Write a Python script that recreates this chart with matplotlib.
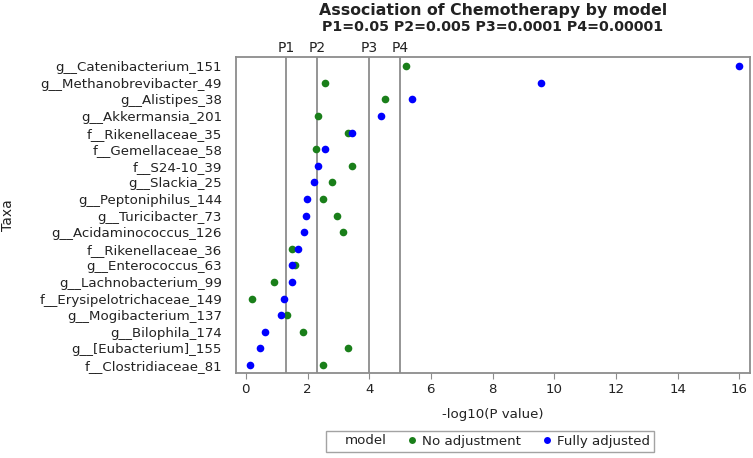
import numpy as np
import matplotlib.pyplot as plt
from matplotlib.lines import Line2D

taxa = ['g__Catenibacterium_151', 'g__Methanobrevibacter_49', 'g__Alistipes_38',
        'g__Akkermansia_201', 'f__Rikenellaceae_35', 'f__Gemellaceae_58',
        'f__S24-10_39', 'g__Slackia_25', 'g__Peptoniphilus_144', 'g__Turicibacter_73',
        'g__Acidaminococcus_126', 'f__Rikenellaceae_36', 'g__Enterococcus_63',
        'g__Lachnobacterium_99', 'f__Erysipelotrichaceae_149', 'g__Mogibacterium_137',
        'g__Bilophila_174', 'g__[Eubacterium]_155', 'f__Clostridiaceae_81']
no_adj = [5.19, 2.56, 4.51, 2.33, 3.31, 2.27, 3.43, 2.80, 2.51, 2.96,
          3.16, 1.48, 1.59, 0.91, 0.20, 1.34, 1.84, 3.32, 2.49]
fully_adj = [16.0, 9.58, 5.39, 4.38, 3.44, 2.56, 2.35, 2.22, 1.99, 1.95,
             1.88, 1.68, 1.50, 1.49, 1.23, 1.13, 0.62, 0.45, 0.13]
p_names = ['P1', 'P2', 'P3', 'P4']
p_cuts = [0.05, 0.005, 0.0001, 0.00001]

green = '#1a7f1a'
blue = '#0000ff'
grey = '#8c8c8c'
txt = '#222222'

fig = plt.figure(figsize=(7.53, 4.58), dpi=100)
ax = fig.add_axes([236 / 753, 1 - 373 / 458, (750 - 236) / 753, (373 - 57) / 458])

y = np.arange(len(taxa))
ax.plot(no_adj, y, 'o', color=green, ms=5.5, mew=0, zorder=3)
ax.plot(fully_adj, y, 'o', color=blue, ms=5.5, mew=0, zorder=3)

for name, p in zip(p_names, p_cuts):
    xv = -np.log10(p)
    ax.axvline(xv, color=grey, lw=1.3, zorder=1)
    ax.text(xv, -0.7, name, ha='center', va='bottom', fontsize=10, color=txt)

ax.set_xlim(-0.32, 16.35)
ax.set_ylim(18.48, -0.55)
ax.set_yticks(y)
ax.set_yticklabels(taxa, fontsize=9.6, color=txt)
ax.set_xticks(np.arange(0, 17, 2))
ax.tick_params(axis='x', labelsize=9.6, labelcolor=txt, color=grey, length=4)
ax.tick_params(axis='y', length=0, pad=10)
for s in ax.spines.values():
    s.set_color(grey)
    s.set_linewidth(1.3)

ax.set_xlabel('-log10(P value)', fontsize=9.6, color=txt, labelpad=8)
ax.set_ylabel('Taxa', fontsize=10, color=txt)
ax.yaxis.set_label_coords(-0.43, 0.5, transform=ax.transAxes)

fig.text(493 / 753, 1 - 10 / 458, 'Association of Chemotherapy by model',
         ha='center', va='center', fontsize=11.3, fontweight='bold', color=txt)
fig.text(493 / 753, 1 - 27 / 458, 'P1=0.05 P2=0.005 P3=0.0001 P4=0.00001',
         ha='center', va='center', fontsize=10.2, fontweight='bold', color=txt)

handles = [Line2D([], [], ls='none'),
           Line2D([], [], ls='none', marker='o', color=green, ms=5, mew=0),
           Line2D([], [], ls='none', marker='o', color=blue, ms=5, mew=0)]
leg = fig.legend(handles, ['model', 'No adjustment', 'Fully adjusted'],
                 loc='center', bbox_to_anchor=(490 / 753, 1 - 441 / 458), ncol=3,
                 fontsize=9.6, frameon=True, fancybox=False, handlelength=0.6,
                 handletextpad=0.5, columnspacing=1.6, borderpad=0.3)
leg.get_frame().set_edgecolor(grey)
leg.get_frame().set_linewidth(1.0)
for t in leg.get_texts():
    t.set_color(txt)

fig.savefig('out.png', dpi=100)
